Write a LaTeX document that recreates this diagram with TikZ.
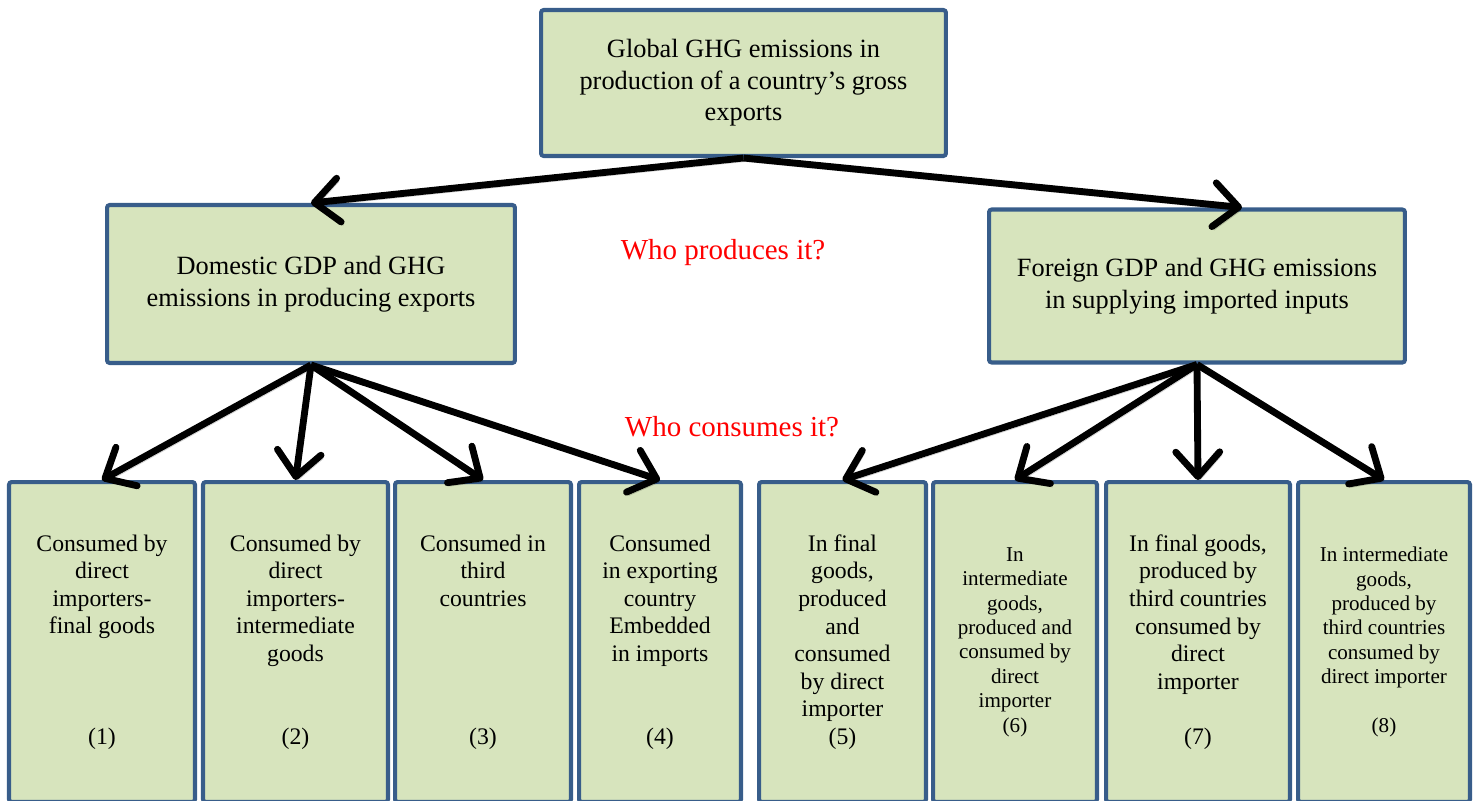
\documentclass[tikz,border=0pt]{standalone}
\usepackage{fontspec}
\setmainfont{Liberation Serif}
\usetikzlibrary{arrows.meta}
\definecolor{boxfill}{HTML}{D7E4BD}
\definecolor{boxline}{HTML}{385D8A}

\begin{document}
\begin{tikzpicture}[x=0.02cm, y=-0.02cm,
    box/.style={draw=boxline, fill=boxfill, line width=2.3pt, rounded corners=1.5pt, align=center, inner sep=2pt},
    bigtext/.style={font=\fontsize{15}{18}\selectfont},
    leaf/.style={box, minimum height=6.4cm, font=\fontsize{13.5}{15.7}\selectfont},
    leafsmall/.style={leaf, font=\fontsize{12}{13.9}\selectfont},
    arr/.style={line width=3.9pt, -{Straight Barb[length=14pt, width=25pt, round]},
        preaction={draw=black, opacity=0.18, transform canvas={shift={(1.2pt,-2pt)}}}},
    question/.style={red, font=\fontsize{16.5}{20}\selectfont}]
    \useasboundingbox (0,0) rectangle (1475,801);
    % Gesamt
    \node[box, bigtext, minimum width=8.1cm, minimum height=2.92cm] (global) at (743.5,83) {Global GHG emissions in\\production of a country's gross\\exports};
    % Inland / Ausland
    \node[box, bigtext, minimum width=8.16cm, minimum height=3.16cm] (domestic) at (311,284) {Domestic GDP and GHG\\emissions in producing exports};
    \node[box, bigtext, minimum width=8.32cm, minimum height=3.06cm] (foreign) at (1197,286) {Foreign GDP and GHG emissions\\in supplying imported inputs};
    % Fragen
    \node[question] (produces) at (723,253) {Who produces it?};
    \node[question] (consumes) at (732,427) {Who consumes it?};
    % Verwendung
    \node[leaf, minimum width=3.72cm] (c1) at (102,642) {Consumed by\\direct\\importers-\\final goods\\[47.1pt](1)};
    \node[leaf, minimum width=3.7cm] (c2) at (295.5,642) {Consumed by\\direct\\importers-\\intermediate\\goods\\[31.4pt](2)};
    \node[leaf, minimum width=3.52cm] (c3) at (483,642) {Consumed in\\third\\countries\\[62.8pt](3)};
    \node[leaf, minimum width=3.24cm] (c4) at (660,642) {Consumed\\in exporting\\country\\Embedded\\in imports\\[31.4pt](4)};
    \node[leaf, minimum width=3.34cm] (c5) at (842.5,642) {In final\\goods,\\produced\\and\\consumed\\by direct\\importer\\(5)};
    \node[leafsmall, minimum width=3.28cm] (c6) at (1015,642) {In\\intermediate\\goods,\\produced and\\consumed by\\direct\\importer\\(6)};
    \node[leaf, minimum width=3.68cm] (c7) at (1198,642) {In final goods,\\produced by\\third countries\\consumed by\\direct\\importer\\[15.7pt](7)};
    \node[leafsmall, minimum width=3.44cm] (c8) at (1384,642) {In intermediate\\goods,\\produced by\\third countries\\consumed by\\direct importer\\[13.9pt](8)};
    % Pfeile
    \draw[arr] (global.south) -- (domestic.north);
    \draw[arr] (global.south) -- ([xshift=0.9cm]foreign.north);
    \foreach \i in {1,...,4}
        \draw[arr] (domestic.south) -- (c\i.north);
    \foreach \i in {5,...,8}
        \draw[arr] (foreign.south) -- (c\i.north);
\end{tikzpicture}
\end{document}
